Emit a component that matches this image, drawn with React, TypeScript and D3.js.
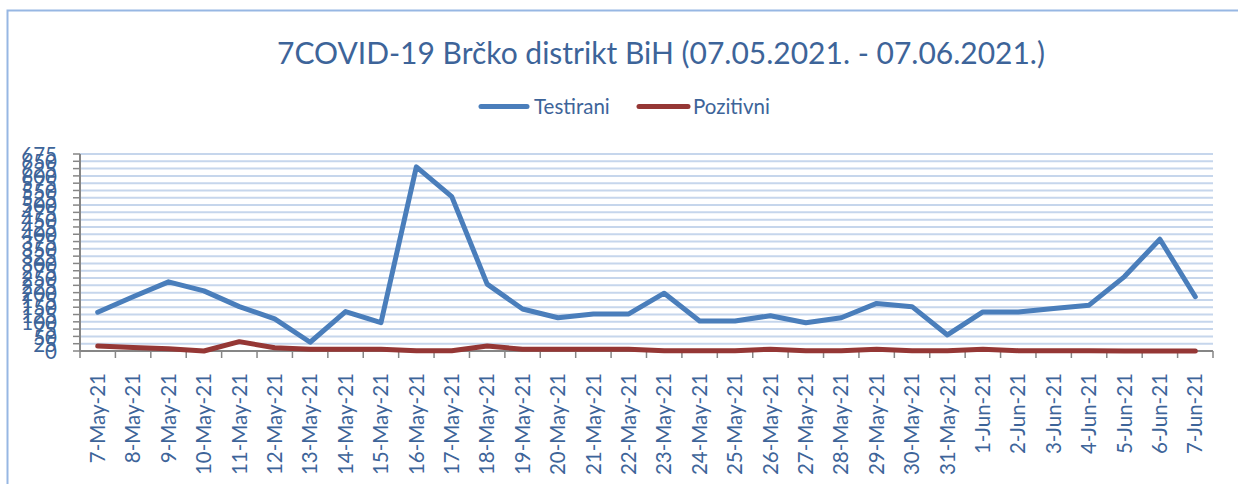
import * as d3 from 'd3'

const dates = [
  '7-May-21', '8-May-21', '9-May-21', '10-May-21', '11-May-21', '12-May-21', '13-May-21',
  '14-May-21', '15-May-21', '16-May-21', '17-May-21', '18-May-21', '19-May-21', '20-May-21',
  '21-May-21', '22-May-21', '23-May-21', '24-May-21', '25-May-21', '26-May-21', '27-May-21',
  '28-May-21', '29-May-21', '30-May-21', '31-May-21', '1-Jun-21', '2-Jun-21', '3-Jun-21',
  '4-Jun-21', '5-Jun-21', '6-Jun-21', '7-Jun-21',
]
const testirani = [
  133, 186, 237, 206, 152, 110, 30, 135, 97, 631, 529, 229, 144, 114, 127, 127, 198, 103,
  103, 121, 97, 114, 163, 152, 55, 134, 134, 146, 157, 255, 383, 186,
]
const pozitivni = [
  17, 12, 8, 0, 32, 11, 6, 6, 6, 1, 1, 17, 6, 6, 6, 6, 1, 1, 1, 6, 1, 1, 6, 1, 1, 6, 1, 1,
  1, 0, 0, 0,
]
const yTicks = d3.range(0, 676, 25)

const series = [
  { name: 'Testirani', values: testirani, color: '#4a7ebb' },
  { name: 'Pozitivni', values: pozitivni, color: '#953735' },
]

const W = 1238
const H = 484
const left = 80
const right = 1213
const top = 154
const bottom = 351
const textColor = '#3d6499'
const font = 'Lato, "Open Sans", sans-serif'

export default function App() {
  const x = d3.scaleBand().domain(dates).range([left, right])
  const y = d3.scaleLinear().domain([0, 675]).range([bottom, top])
  const cx = (d: string) => (x(d) ?? 0) + x.bandwidth() / 2

  const line = d3
    .line<number>()
    .x((_, i) => cx(dates[i]))
    .y(v => y(v))

  const tickXs = dates.map(d => x(d) ?? 0).concat([right])

  return (
    <svg
      width={W}
      height={H}
      style={{ position: 'absolute', left: 0, top: 0, background: '#fff' }}
      fontFamily={font}
    >
      {/* chart frame */}
      <rect x={7.5} y={10.5} width={1300} height={600} fill="none" stroke="#97b7e3" strokeWidth={2} />

      <text x={661} y={64} textAnchor="middle" fontSize={30} fill={textColor}>
        7COVID-19 Brčko distrikt BiH (07.05.2021. - 07.06.2021.)
      </text>

      {/* legend */}
      <g>
        <line x1={481} x2={527} y1={106.5} y2={106.5} stroke={series[0].color} strokeWidth={5} strokeLinecap="round" />
        <text x={534} y={106.5} dy="0.35em" fontSize={20.5} fill={textColor}>Testirani</text>
        <line x1={639} x2={688} y1={106.5} y2={106.5} stroke={series[1].color} strokeWidth={5} strokeLinecap="round" />
        <text x={693} y={106.5} dy="0.35em" fontSize={20.5} fill={textColor}>Pozitivni</text>
      </g>

      {/* gridlines */}
      {yTicks.filter(v => v > 0).map(v => (
        <line key={v} x1={left} x2={right} y1={y(v)} y2={y(v)} stroke="#c6d6ec" strokeWidth={2} />
      ))}

      {/* y axis */}
      <line x1={left} x2={left} y1={top} y2={bottom} stroke="#868686" strokeWidth={2} />
      {yTicks.map(v => (
        <line key={'t' + v} x1={left - 7} x2={left} y1={y(v)} y2={y(v)} stroke="#868686" strokeWidth={1.5} />
      ))}
      {yTicks.map(v => (
        <text key={'l' + v} x={57} y={y(v) + 1} dy="0.35em" textAnchor="end" fontSize={20.5} fill={textColor}>
          {v}
        </text>
      ))}

      {/* x axis */}
      <line x1={left} x2={right} y1={bottom} y2={bottom} stroke="#868686" strokeWidth={2} />
      {tickXs.map((t, i) => (
        <line key={i} x1={t} x2={t} y1={bottom} y2={bottom + 7} stroke="#868686" strokeWidth={1.5} />
      ))}
      {dates.map(d => (
        <text
          key={d}
          transform={`translate(${cx(d)},373) rotate(-90)`}
          dy="0.35em"
          textAnchor="end"
          fontSize={20.5}
          fill={textColor}
        >
          {d}
        </text>
      ))}

      {/* series */}
      {series.map(s => (
        <path
          key={s.name}
          d={line(s.values) ?? ''}
          fill="none"
          stroke={s.color}
          strokeWidth={5}
          strokeLinejoin="round"
          strokeLinecap="round"
        />
      ))}
    </svg>
  )
}
